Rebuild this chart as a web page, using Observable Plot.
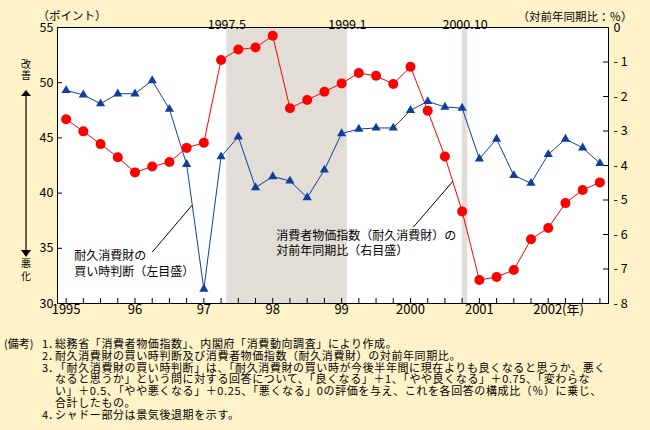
<!DOCTYPE html>
<html><head><meta charset="utf-8">
<script src="https://cdn.jsdelivr.net/npm/d3@7"></script>
<script src="https://cdn.jsdelivr.net/npm/@observablehq/plot@0.6"></script>
<style>
html,body{margin:0;padding:0;background:#fef2c8;}
#wrap{position:relative;width:650px;height:430px;font-family:'Noto Sans CJK JP',sans-serif;color:#000;overflow:hidden;}
#notes{position:absolute;left:0;top:338px;font-size:11px;line-height:11.8px;width:650px;letter-spacing:0.6px;}
#notes .ln{position:relative;height:11.8px;white-space:nowrap;}
#notes .lab{position:absolute;left:4px;letter-spacing:0;}
#notes .num{position:absolute;left:42px;letter-spacing:0;}
#notes .txt{position:absolute;left:55px;}
</style></head><body><div id="wrap"><div id="chart"></div><div id="notes"></div></div>
<script>
// Quarterly periods (year-quarter)
const quarter = ["1995-1","1995-2","1995-3","1995-4","1996-1","1996-2","1996-3","1996-4",
  "1997-1","1997-2","1997-3","1997-4","1998-1","1998-2","1998-3","1998-4",
  "1999-1","1999-2","1999-3","1999-4","2000-1","2000-2","2000-3","2000-4",
  "2001-1","2001-2","2001-3","2001-4","2002-1","2002-2","2002-3","2002-4"];
// 耐久消費財の買い時判断 (left axis, points)
const buyTiming = [49.3,48.9,48.1,49.0,49.0,50.2,47.6,42.6,31.3,43.3,45.1,40.5,41.5,41.1,39.6,42.1,
  45.4,45.8,45.9,45.9,47.5,48.3,47.8,47.7,43.1,44.9,41.6,40.9,43.5,44.9,44.1,42.7];
// 消費者物価指数（耐久消費財）対前年同期比 (right axis, %)
const cpiYoY = [-2.66,-3.01,-3.38,-3.76,-4.20,-4.03,-3.90,-3.49,-3.34,-0.94,-0.64,-0.58,-0.24,-2.34,-2.10,-1.86,
  -1.62,-1.32,-1.40,-1.64,-1.14,-2.41,-3.74,-5.33,-7.32,-7.23,-7.03,-6.14,-5.81,-5.09,-4.71,-4.49];
// recession shading, month index from Jan 1995 (start inclusive, end exclusive)
const shadeStart = [28, 69];   // 1997.5, 2000.10
const shadeEnd = [49, 70];     // through 1999.1, 2000.10
const turnLabels = ["1997.5","1999.1","2000.10"];
const turnMonths = [28, 49, 69.5];
// axis ticks
const leftTicks = [30,35,40,45,50,55];
const rightTicks = [0,-1,-2,-3,-4,-5,-6,-7,-8];
const yearLabels = ["1995","96","97","98","99","2000","2001"];
const yearMonths = [0,12,24,36,48,60,72];
const lastYearLabel = "2002(年)";
const lastYearMonth = 84;

const monthOf = q => { const [y, k] = q.split("-").map(Number); return (y - 1995) * 12 + (k - 1) * 3; };
const toLeft = v => 55 + v * 25 / 8;
const data = quarter.map((q, i) => ({m: monthOf(q), buy: buyTiming[i], cpi: toLeft(cpiYoY[i])}));
const shades = shadeStart.map((s, i) => ({start: s, end: shadeEnd[i]}));
const turns = turnLabels.map((t, i) => ({label: t, m: turnMonths[i]}));
const years = yearLabels.map((t, i) => ({label: t, m: yearMonths[i]}));

const W = 650, H = 322, mL = 57, mR = 42, mT = 27, mB = 19;
const pW = W - mL - mR, pH = H - mT - mB;
const blue = "#0f3f98", red = "#ff0000";
const font = "'Noto Sans CJK JP', sans-serif";

const chart = Plot.plot({
  width: W, height: H, marginLeft: mL, marginRight: mR, marginTop: mT, marginBottom: mB,
  style: {background: "transparent", fontFamily: font, fontSize: "13px", color: "black", overflow: "visible"},
  x: {domain: [-1.5, 94.5], axis: null},
  y: {domain: [30, 55], axis: null},
  marks: [
    Plot.frame({fill: "white"}),
    Plot.rect(shades, {x1: "start", x2: "end", fill: "#e2ddd6"}),
    // ticks (inside)
    Plot.tickY(leftTicks, {y: d => d, stroke: "black", insetRight: pW - 5}),
    Plot.tickY(rightTicks, {y: d => toLeft(d), stroke: "black", insetLeft: pW - 5}),
    Plot.tickX(data, {x: "m", stroke: "black", insetTop: pH - 5}),
    // tick labels
    Plot.text(leftTicks, {y: d => d, text: d => String(d), frameAnchor: "left", textAnchor: "end", dx: -4, fontSize: 12.5}),
    Plot.text(rightTicks, {y: d => toLeft(d), text: d => d === 0 ? "0" : "- " + Math.abs(d), frameAnchor: "right", textAnchor: "start", dx: 5, fontSize: 12.5}),
    Plot.text(years, {x: "m", text: "label", frameAnchor: "bottom", dy: 10.5, fontSize: 13}),
    Plot.text([lastYearLabel], {x: () => lastYearMonth, text: d => d, frameAnchor: "bottom", textAnchor: "start", dy: 10.5, dx: -15, fontSize: 13}),
    Plot.text(turns, {x: "m", text: "label", frameAnchor: "top", dy: -7.5, fontSize: 12.5}),
    Plot.text(["（ポイント）"], {text: d => d, frameAnchor: "top-left", textAnchor: "start", dx: -20, dy: -15.5, fontSize: 11.5}),
    Plot.text(["（対前年同期比：％）"], {text: d => d, frameAnchor: "top-right", textAnchor: "end", dx: 24, dy: -15, fontSize: 11.5}),
    // series
    Plot.line(data, {x: "m", y: "buy", stroke: blue, strokeWidth: 1}),
    Plot.line(data, {x: "m", y: "cpi", stroke: red, strokeWidth: 1}),
    Plot.dot(data, {x: "m", y: "buy", symbol: "triangle", r: 3.4, fill: blue, stroke: "none"}),
    Plot.dot(data, {x: "m", y: "cpi", r: 5, fill: red, stroke: "none"}),
    // annotations
    Plot.link([{x1: 15, y1: 34.65, x2: 21.95, y2: 38.9}], {x1: "x1", y1: "y1", x2: "x2", y2: "y2", stroke: "black", strokeWidth: 1}),
    Plot.link([{x1: 60.5, y1: 36.91, x2: 67.35, y2: 41.05}], {x1: "x1", y1: "y1", x2: "x2", y2: "y2", stroke: "black", strokeWidth: 1}),
    Plot.text([{x: 1.4, y: 33.71, t: "耐久消費財の\n買い時判断（左目盛）"}], {x: "x", y: "y", text: "t", textAnchor: "start", lineHeight: 1.33, fontSize: 12}),
    Plot.text([{x: 36.6, y: 35.48, t: "消費者物価指数（耐久消費財）の\n対前年同期比（右目盛）"}], {x: "x", y: "y", text: "t", textAnchor: "start", lineHeight: 1.25, fontSize: 12}),
    Plot.frame({stroke: "black"})
  ]
});
document.getElementById("chart").appendChild(chart);

// left-side 改善 / 悪化 arrow decoration
const svg = d3.select(chart);
const g = svg.append("g").attr("font-family", font).attr("font-size", 10).attr("text-anchor", "middle");
[["改", 64.2], ["善", 75.3], ["悪", 263.8], ["化", 276.8]].forEach(([t, y]) =>
  g.append("text").attr("x", 26).attr("y", y).attr("dy", "0.35em").text(t));
g.append("line").attr("x1", 26).attr("x2", 26).attr("y1", 94).attr("y2", 252).attr("stroke", "black").attr("stroke-width", 1.2);
g.append("path").attr("d", "M26,90L31,96L21,96Z").attr("fill", "black");
g.append("path").attr("d", "M26,257L31,250L21,250Z").attr("fill", "black");

// notes
const notes = [
  {lab: "(備考)", num: "1．", text: "総務省「消費者物価指数」、内閣府「消費動向調査」により作成。"},
  {num: "2．", text: "耐久消費財の買い時判断及び消費者物価指数（耐久消費財）の対前年同期比。"},
  {num: "3．", text: "「耐久消費財の買い時判断」は、「耐久消費財の買い時が今後半年間に現在よりも良くなると思うか、悪く"},
  {text: "なると思うか」という問に対する回答について、「良くなる」＋1、「やや良くなる」＋0.75、「変わらな"},
  {text: "い」＋0.5、「やや悪くなる」＋0.25、「悪くなる」0の評価を与え、これを各回答の構成比（％）に乗じ、"},
  {text: "合計したもの。"},
  {num: "4．", text: "シャドー部分は景気後退期を示す。"}
];
const nd = d3.select("#notes");
notes.forEach(n => {
  const ln = nd.append("div").attr("class", "ln");
  if (n.lab) ln.append("span").attr("class", "lab").text(n.lab);
  if (n.num) ln.append("span").attr("class", "num").text(n.num);
  ln.append("span").attr("class", "txt").text(n.text);
});
</script>
</body></html>
